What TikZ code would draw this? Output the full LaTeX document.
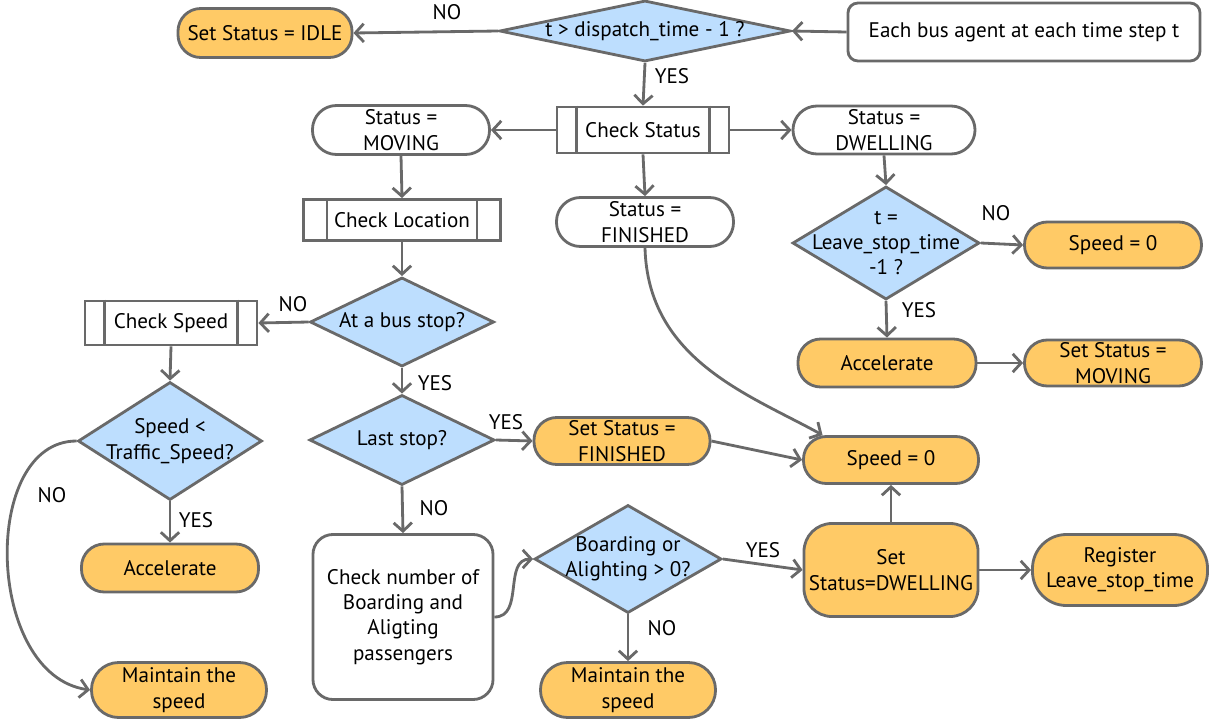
\documentclass[tikz,border=0pt]{standalone}
\usepackage{fontspec}
\setmainfont{PT Sans}
\usetikzlibrary{shapes.geometric, arrows.meta}
\definecolor{linegray}{HTML}{696969}
\definecolor{actfill}{HTML}{FFCA66}
\definecolor{askfill}{HTML}{BDDEFE}
\begin{document}
\begin{tikzpicture}[x=0.025cm, y=-0.025cm, every node/.style = {draw=linegray, line width=2pt, align=center, inner sep=0pt, font=\fontsize{15}{18}\selectfont},
          act/.style={rounded corners=0.57cm, fill=actfill},
          status/.style={rounded corners=0.6cm, fill=white},
          ask/.style={shape=diamond, fill=askfill, inner sep=-0.4cm},
          sub/.style={rectangle, fill=white},
          lbl/.style={draw=none},
          flow/.style={draw=linegray, line width=2pt, -{Straight Barb[length=6pt, width=13pt]}}]
  \useasboundingbox (0,0) rectangle (1221,723);
  \node[status, rounded corners=0.25cm, minimum width=8.8cm, minimum height=1.45cm] (start) at (1024,32) {Each bus agent at each time step t};
  \node[ask, aspect=4.8, minimum width=7.275cm, minimum height=1.525cm] (disp) at (645,31) {t > dispatch\_time - 1 ?};
  \node[act, minimum width=4.35cm, minimum height=1.225cm] (idle) at (265,33) {Set Status = IDLE};
  \node[sub, minimum width=4.3cm, minimum height=1.15cm] (cstat) at (643,130) {Check Status};
  \node[status, minimum width=4.425cm, minimum height=1.225cm] (moving) at (401,130) {Status =\\MOVING};
  \node[status, minimum width=4.55cm, minimum height=1.2cm] (dwell) at (884,130) {Status =\\DWELLING};
  \node[status, minimum width=4.425cm, minimum height=1.225cm] (fin) at (645,222) {Status =\\FINISHED};
  \node[sub, minimum width=4.925cm, minimum height=1.025cm] (cloc) at (402,220) {Check Location};
  \node[ask, aspect=1.65, minimum width=4.675cm, minimum height=2.825cm] (dwask) at (886,243) {t =\\Leave\_stop\_time\\-1 ?};
  \node[act, minimum width=4.425cm, minimum height=1.15cm] (stop1) at (1113,245) {Speed = 0};
  \node[act, minimum width=4.45cm, minimum height=1.2cm] (acc1) at (887,363) {Accelerate};
  \node[act, minimum width=4.425cm, minimum height=1.15cm] (setmov) at (1113,363) {Set Status =\\MOVING};
  \node[ask, aspect=2.1, minimum width=4.6cm, minimum height=2.225cm] (atstop) at (402,322) {At a bus stop?};
  \node[sub, minimum width=4.3cm, minimum height=1.1cm] (cspeed) at (171,323) {Check Speed};
  \node[ask, aspect=1.55, minimum width=4.6cm, minimum height=2.95cm] (slow) at (170,441) {Speed <\\Traffic\_Speed?};
  \node[act, minimum width=4.425cm, minimum height=1.2cm] (acc2) at (170,568) {Accelerate};
  \node[act, rounded corners=0.68cm, minimum width=4.375cm, minimum height=1.375cm] (keep1) at (179,690) {Maintain the\\speed};
  \node[ask, aspect=2.05, minimum width=4.625cm, minimum height=2.25cm] (last) at (402,440) {Last stop?};
  \node[act, minimum width=4.4cm, minimum height=1.175cm] (setfin) at (622,441) {Set Status =\\FINISHED};
  \node[act, minimum width=4.375cm, minimum height=1.175cm] (stop2) at (891,460) {Speed = 0};
  \node[status, rounded corners=0.5cm, minimum width=4.5cm, minimum height=4.125cm] (count) at (403,617) {Check number of\\Boarding and\\Aligting\\passengers};
  \node[ask, aspect=1.75, minimum width=4.675cm, minimum height=2.7cm] (board) at (628,559) {Boarding or\\Alighting > 0?};
  \node[act, rounded corners=0.7cm, minimum width=4.35cm, minimum height=2.325cm] (setdw) at (891,570) {Set\\Status=DWELLING};
  \node[act, rounded corners=0.85cm, minimum width=4.375cm, minimum height=1.775cm] (reg) at (1120,570) {Register\\Leave\_stop\_time};
  \node[act, rounded corners=0.68cm, minimum width=4.375cm, minimum height=1.375cm] (keep2) at (628,690) {Maintain the\\speed};
  \foreach \n/\d in {cstat/0.525, cloc/0.625, cspeed/0.525}
    \draw[draw=linegray, line width=2pt] ([xshift=\d cm]\n.north west) -- ([xshift=\d cm]\n.south west)
      ([xshift=-\d cm]\n.north east) -- ([xshift=-\d cm]\n.south east);
  \draw[flow] (start.west) -- (disp.east);
  \draw[flow] (disp.west) -- (idle.east);
  \draw[flow] (disp.south) -- (cstat.north);
  \draw[flow] (cstat.west) -- (moving.east);
  \draw[flow] (cstat.east) -- (dwell.west);
  \draw[flow] (cstat.south) -- (fin.north);
  \draw[flow] (moving.south) -- (cloc.north);
  \draw[flow] (cloc.south) -- (atstop.north);
  \draw[flow] (atstop.west) -- (cspeed.east);
  \draw[flow] (atstop.south) -- (last.north);
  \draw[flow] (cspeed.south) -- (slow.north);
  \draw[flow] (slow.south) -- (acc2.north);
  \draw[flow] (slow.west) .. controls (-20,441) and (-15,675) .. (keep1.west);
  \draw[flow] (last.east) -- (setfin.west);
  \draw[flow] (last.south) -- (count.north);
  \draw[flow] (count.east) .. controls +(30,0) and +(-30,0) .. (board.west);
  \draw[flow] (board.east) -- (setdw.west);
  \draw[flow] (board.south) -- (keep2.north);
  \draw[flow] (setdw.north) -- (stop2.south);
  \draw[flow] (setdw.east) -- (reg.west);
  \draw[flow] (setfin.east) -- (stop2.west);
  \draw[flow] (fin.south) .. controls (648,360) and (750,395) .. (stop2.160);
  \draw[flow] (dwell.south) -- (dwask.north);
  \draw[flow] (dwask.east) -- (stop1.west);
  \draw[flow] (dwask.south) -- (acc1.north);
  \draw[flow] (acc1.east) -- (setmov.west);
  \node[lbl] (no1) at (447,12) {NO};
  \node[lbl] (yes1) at (672,76) {YES};
  \node[lbl] (no2) at (293,304) {NO};
  \node[lbl] (yes2) at (435,383) {YES};
  \node[lbl] (no3) at (996,213) {NO};
  \node[lbl] (yes3) at (919,310) {YES};
  \node[lbl] (yes4) at (506,422) {YES};
  \node[lbl] (no4) at (434,508) {NO};
  \node[lbl] (no5) at (52,495) {NO};
  \node[lbl] (yes5) at (196,520) {YES};
  \node[lbl] (yes6) at (763,550) {YES};
  \node[lbl] (no6) at (662,628) {NO};
\end{tikzpicture}
\end{document}
